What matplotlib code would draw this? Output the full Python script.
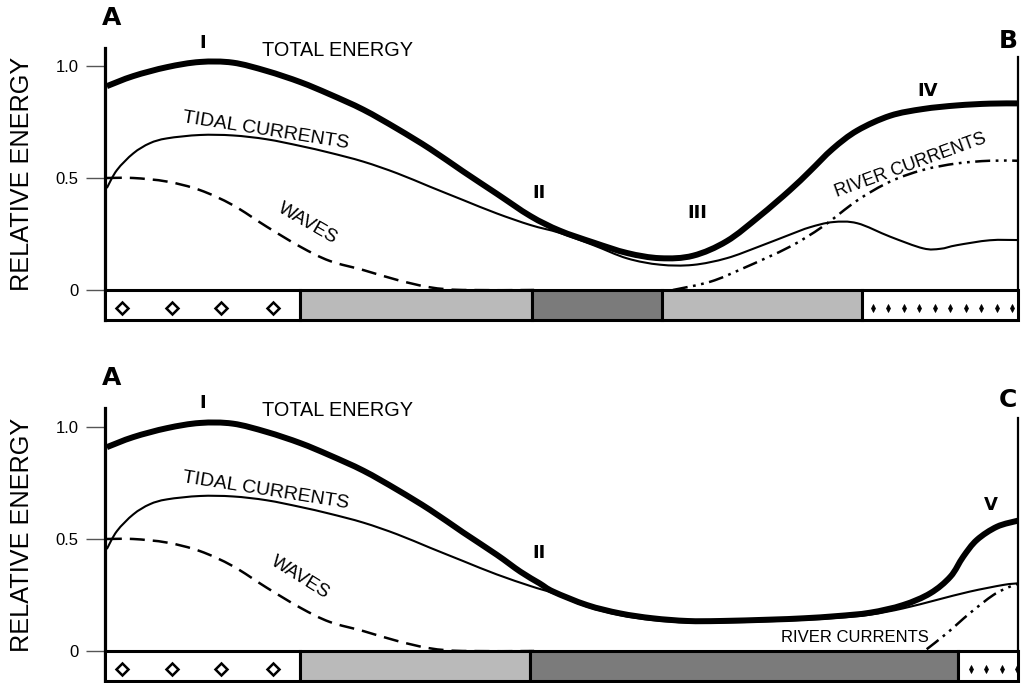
import matplotlib
matplotlib.use("Agg")
import matplotlib.pyplot as plt
from matplotlib.path import Path
from matplotlib.patches import PathPatch

# distance along the section (0 = A, 100 = B / C) and relative energy
top_total_x = [0.2, 3.1, 6.8, 10.4, 14.0, 17.7, 21.4, 24.6, 28.3, 32.0, 35.6, 39.2, 42.9, 46.6, 49.8,
               53.5, 57.2, 60.8, 64.4, 68.1, 71.7, 75.0, 77.2, 79.7, 82.4, 86.0, 89.6, 93.3, 96.9, 100]
top_total_y = [0.91, 0.955, 0.995, 1.018, 1.015, 0.978, 0.928, 0.874, 0.805, 0.72, 0.63, 0.53, 0.43, 0.33, 0.265,
               0.212, 0.165, 0.142, 0.153, 0.218, 0.33, 0.445, 0.53, 0.63, 0.712, 0.778, 0.808, 0.824, 0.832, 0.833]

top_tidal_x = [0.2, 1.3, 3.1, 4.9, 6.8, 10.4, 14.0, 17.7, 21.4, 24.6, 28.3, 32.0, 35.6, 39.2, 42.9, 46.6,
               49.8, 53.5, 57.2, 60.8, 64.4, 68.1, 71.7, 75.0, 77.2, 79.7, 82.4, 86.0, 89.6, 91.5, 93.3,
               96.9, 100]
top_tidal_y = [0.455, 0.535, 0.61, 0.655, 0.677, 0.692, 0.69, 0.673, 0.643, 0.613, 0.573, 0.521, 0.461,
               0.402, 0.342, 0.29, 0.255, 0.20, 0.141, 0.113, 0.112, 0.142, 0.195, 0.247, 0.28, 0.303,
               0.298, 0.238, 0.186, 0.184, 0.20, 0.222, 0.223]

waves_x = [0.2, 3.1, 6.8, 10.4, 14.0, 17.7, 21.4, 24.6, 28.3, 32.0, 35.6, 39.2, 47.0]
waves_y = [0.5, 0.5, 0.484, 0.446, 0.379, 0.283, 0.193, 0.13, 0.089, 0.045, 0.012, 0.0, 0.0]

top_river_x = [62.2, 66.3, 69.9, 75.0, 78.6, 82.4, 86.0, 89.6, 93.3, 96.9, 100]
top_river_y = [0.0, 0.037, 0.097, 0.193, 0.283, 0.40, 0.484, 0.536, 0.565, 0.577, 0.577]

bot_total_x = [0.2, 3.1, 6.8, 10.4, 14.0, 17.7, 21.4, 24.6, 28.3, 32.0, 35.6, 39.2, 42.9, 45.5, 47.6,
               49.1, 52.8, 56.4, 60.0, 63.8, 67.4, 72.8, 76.5, 80.2, 83.8, 87.4, 90.4, 92.6, 94.0, 95.5,
               97.7, 100]
bot_total_y = [0.91, 0.955, 0.995, 1.018, 1.015, 0.978, 0.928, 0.874, 0.805, 0.72, 0.63, 0.53, 0.43, 0.354, 0.302,
               0.265, 0.205, 0.168, 0.146, 0.134, 0.134, 0.14, 0.146, 0.156, 0.171, 0.205, 0.258, 0.332,
               0.421, 0.496, 0.555, 0.582]

bot_tidal_x = [0.2, 1.3, 3.1, 4.9, 6.8, 10.4, 14.0, 17.7, 21.4, 24.6, 28.3, 32.0, 35.6, 39.2, 42.9, 46.6,
               49.1, 52.8, 56.4, 60.0, 63.8, 67.4, 72.8, 76.5, 80.2, 83.8, 87.4, 91.1, 94.7, 98.4, 100]
bot_tidal_y = [0.455, 0.535, 0.61, 0.655, 0.677, 0.692, 0.69, 0.673, 0.643, 0.613, 0.573, 0.521, 0.461,
               0.402, 0.342, 0.29, 0.258, 0.198, 0.16, 0.138, 0.127, 0.127, 0.133, 0.139, 0.148, 0.162,
               0.19, 0.228, 0.265, 0.295, 0.302]

bot_river_x = [90.0, 92.2, 94.7, 97.3, 99.1, 100]
bot_river_y = [0.008, 0.079, 0.168, 0.25, 0.287, 0.30]

# facies zones along the bottom strip: (start, end, fill)
top_zones = [(0, 21.4, "white"), (21.4, 46.8, "#bababa"), (46.8, 61.0, "#7b7b7b"),
             (61.0, 82.9, "#bababa"), (82.9, 100, "white")]
bot_zones = [(0, 21.4, "white"), (21.4, 46.6, "#bababa"), (46.6, 93.4, "#7b7b7b"), (93.4, 100, "white")]
diamond_x = [1.9, 7.3, 12.7, 18.4]
top_dot_x = [84.1, 85.8, 87.5, 89.2, 90.9, 92.6, 94.3, 96.0, 97.7, 99.3]
bot_dot_x = [94.9, 96.5, 98.2, 99.9]

W, H = 1021, 683
SANS = ["Liberation Sans", "DejaVu Sans"]
HEAVY = "DejaVu Sans"
YLO, YHI = -0.15, 1.12
PX_PER_UNIT = 224.0

fig = plt.figure(figsize=(W / 100, H / 100), dpi=100)


def fig_xy(x, y):
    return x / W, 1 - y / H


def txt(x, y, s, size, rot=0, bold=False):
    fig.text(*fig_xy(x, y), s, fontsize=size, rotation=rot, ha="center", va="center",
             rotation_mode="anchor", family=HEAVY if bold else SANS,
             fontweight="heavy" if bold else "normal")


def smooth_curve(ax, xs, ys, **style):
    # Bezier path through the read points (Catmull-Rom handles), drawn by matplotlib
    pts = list(zip(xs, ys))
    verts = [pts[0]]
    codes = [Path.MOVETO]
    for i in range(len(pts) - 1):
        p0 = pts[max(i - 1, 0)]
        p1, p2 = pts[i], pts[i + 1]
        p3 = pts[min(i + 2, len(pts) - 1)]
        c1 = (p1[0] + (p2[0] - p0[0]) / 6, p1[1] + (p2[1] - p0[1]) / 6)
        c2 = (p2[0] - (p3[0] - p1[0]) / 6, p2[1] - (p3[1] - p1[1]) / 6)
        verts += [c1, c2, p2]
        codes += [Path.CURVE4] * 3
    ax.add_patch(PathPatch(Path(verts, codes), fill=False, edgecolor="black",
                           joinstyle="round", capstyle="butt", **style))


def make_panel(zero_px, total, tidal, river, zones, dots, left_top, right_top):
    bottom_px = zero_px - YLO * PX_PER_UNIT
    top_px = zero_px - YHI * PX_PER_UNIT
    ax = fig.add_axes([105 / W, (H - bottom_px) / H, 913 / W, (bottom_px - top_px) / H])
    ax.set_xlim(0, 100)
    ax.set_ylim(YLO, YHI)
    for side in ("top", "bottom"):
        ax.spines[side].set_visible(False)
    ax.spines["left"].set_linewidth(2.3)
    ax.spines["left"].set_bounds(-0.134, left_top)
    ax.spines["right"].set_linewidth(1.6)
    ax.spines["right"].set_bounds(-0.134, right_top)
    ax.set_xticks([])
    ax.set_yticks([0, 0.5, 1.0])
    ax.set_yticklabels(["0", "0.5", "1.0"], fontsize=12, family=SANS)
    ax.tick_params(axis="y", length=14, width=1.0, color="#555555", pad=5)
    ax.patch.set_alpha(0)

    smooth_curve(ax, waves_x, waves_y, lw=1.8, linestyle=(0, (6, 3.2)), zorder=2)
    smooth_curve(ax, tidal[0], tidal[1], lw=1.5, zorder=3)
    smooth_curve(ax, river[0], river[1], lw=1.8, linestyle=(0, (6, 2.2, 1.1, 2.2, 1.1, 2.2)), zorder=2)
    smooth_curve(ax, total[0], total[1], lw=4.3, zorder=4)

    for start, end, color in zones:
        ax.bar(start, 0.134, width=end - start, bottom=-0.134, align="edge", color=color,
               edgecolor="black", linewidth=2.2, zorder=5, clip_on=False)
    ax.plot(diamond_x, [-0.082] * len(diamond_x), linestyle="none", marker="D", ms=6,
            mfc="white", mec="black", mew=1.8, zorder=6, clip_on=False)
    ax.plot(dots, [-0.082] * len(dots), linestyle="none", marker="d", ms=4,
            mfc="black", mec="black", mew=0.5, zorder=6, clip_on=False)
    return ax


make_panel(290, (top_total_x, top_total_y), (top_tidal_x, top_tidal_y),
           (top_river_x, top_river_y), top_zones, top_dot_x, 1.08, 1.04)
make_panel(651, (bot_total_x, bot_total_y), (bot_tidal_x, bot_tidal_y),
           (bot_river_x, bot_river_y), bot_zones, bot_dot_x, 1.085, 1.04)

# panel annotations, top
txt(22, 174, "RELATIVE ENERGY", 18.2, rot=90)
txt(112, 18, "A", 18, bold=True)
txt(1008, 41, "B", 18, bold=True)
txt(203, 43, "I", 13, bold=True)
txt(337, 50, "TOTAL ENERGY", 14.3)
txt(266, 131, "TIDAL CURRENTS", 14, rot=-9)
txt(308, 224, "WAVES", 13.5, rot=-30)
txt(539, 193, "II", 13, bold=True)
txt(697, 213, "III", 13, bold=True)
txt(928, 91, "IV", 13, bold=True)
txt(911, 165, "RIVER CURRENTS", 13, rot=20)

# panel annotations, bottom
txt(22, 535, "RELATIVE ENERGY", 18.2, rot=90)
txt(112, 378, "A", 18, bold=True)
txt(1008, 400, "C", 18, bold=True)
txt(203, 403, "I", 13, bold=True)
txt(337, 410, "TOTAL ENERGY", 14.3)
txt(266, 491, "TIDAL CURRENTS", 14, rot=-9)
txt(300, 578, "WAVES", 13.5, rot=-32)
txt(539, 553, "II", 13, bold=True)
txt(991, 505, "V", 13, bold=True)
txt(855, 638, "RIVER CURRENTS", 12)

fig.savefig("out.png", dpi=100)
